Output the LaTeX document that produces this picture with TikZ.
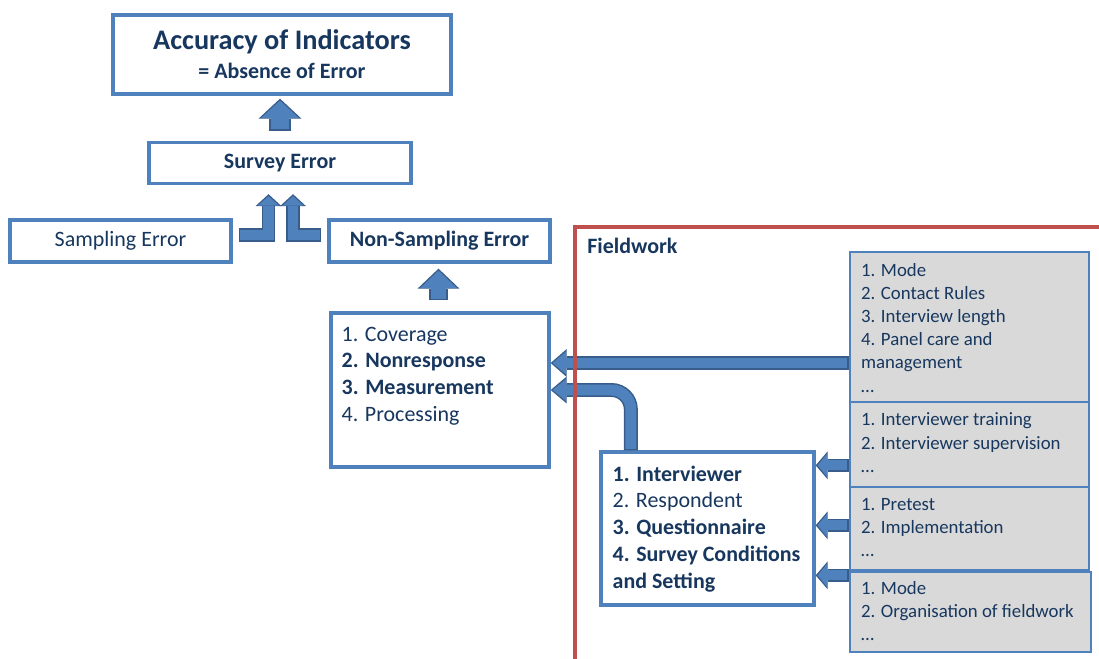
\documentclass[tikz,border=0pt]{standalone}
\usepackage{fontspec}
\setmainfont{Carlito}
\usetikzlibrary{calc,arrows.meta}
\definecolor{boxblue}{HTML}{4F81BD}
\definecolor{arrowfill}{HTML}{4F81BD}
\definecolor{arrowedge}{HTML}{385D8A}
\definecolor{textblue}{HTML}{17375E}
\definecolor{fieldred}{HTML}{C0504D}
\definecolor{greybox}{HTML}{D9D9D9}
\newdimen\pxu \pxu=0.02cm
\newcommand{\bigfont}{\fontsize{16.1}{19.3}\selectfont}
\newcommand{\boxfont}{\fontsize{12.5}{15.1}\selectfont}
\newcommand{\intfont}{\fontsize{12.5}{15.3}\selectfont}
\newcommand{\greyfont}{\fontsize{10.7}{13.2}\selectfont}
% #1 shaft, #2 head width, #3 head length (all in px), #4 path
\newcommand{\blockarrow}[4]{%
  \pgfmathsetmacro{\shout}{#1*0.5669}\pgfmathsetmacro{\hwout}{#2*0.5669}\pgfmathsetmacro{\hlout}{#3*0.5669}%
  \pgfmathsetmacro{\shin}{(#1-3)*0.5669}\pgfmathsetmacro{\hwin}{(#2-5)*0.5669}\pgfmathsetmacro{\hlin}{(#3-2.5)*0.5669}%
  \draw[arrowedge, line width=\shout pt, -{Triangle[width=\hwout pt, length=\hlout pt, line width=0pt]}] #4;
  \draw[arrowfill, line width=\shin pt, shorten <=0.85pt, shorten >=1.1pt, -{Triangle[width=\hwin pt, length=\hlin pt, line width=0pt]}] #4;}
\tikzset{
  errbox/.style={draw=boxblue, line width=1.9pt, fill=white, text=textblue, inner sep=0pt},
  greycell/.style={draw=boxblue, line width=1.5pt, fill=greybox, inner sep=0pt},
  listtext/.style={anchor=north west, inner sep=0pt, align=left, text=textblue}
}
\begin{document}
\begin{tikzpicture}[x=0.02cm, y=-0.02cm]%survey error tree
\useasboundingbox (0,0) rectangle (1099,659);
\node[errbox, minimum width=338\pxu, minimum height=79\pxu, align=center] (acc) at (282,54.5)
  {{\bigfont\bfseries Accuracy of Indicators}\\[4.5pt]{\boxfont\bfseries = Absence of Error}};
\node[errbox, minimum width=262\pxu, minimum height=41\pxu, font=\boxfont\bfseries] (survey) at (280,163) {Survey Error};
\node[errbox, minimum width=221\pxu, minimum height=42\pxu, font=\boxfont] (sampling) at (120.5,241) {Sampling Error};
\node[errbox, minimum width=221\pxu, minimum height=42\pxu, font=\boxfont\bfseries] (nonsampling) at (439.5,241) {Non-Sampling Error};
\node[errbox, minimum width=218\pxu, minimum height=154\pxu] (errtypes) at (440,390) {};
\node[listtext, font=\boxfont] at ($(errtypes.north west)+(12,15.5)$)
  {1. Coverage\\\textbf{2. Nonresponse}\\\textbf{3. Measurement}\\4. Processing};
\node[errbox, minimum width=213\pxu, minimum height=153\pxu] (interv) at (707.5,528.5) {};
\node[listtext, font=\intfont] at ($(interv.north west)+(13,15)$)
  {\textbf{1. Interviewer}\\2. Respondent\\\textbf{3. Questionnaire}\\\textbf{4. Survey Conditions}\\\textbf{and Setting}};
\node[anchor=west, inner sep=0pt, font=\boxfont\bfseries, text=textblue] (fieldwork) at (587,246) {Fieldwork};
% grey cells on the right
\node[greycell, minimum width=239\pxu, minimum height=150\pxu] (g1) at (969.5,327) {};
\node[greycell, minimum width=239\pxu, minimum height=85\pxu] (g2) at (969.5,444.5) {};
\node[greycell, minimum width=239\pxu, minimum height=83\pxu] (g3) at (969.5,528.5) {};
\node[greycell, minimum width=241\pxu, minimum height=80\pxu] (g4) at (970.5,612) {};
\node[listtext, font=\greyfont] at ($(g1.north west)+(12,12)$)
  {1. Mode\\2. Contact Rules\\3. Interview length\\4. Panel care and\\management\\\dots};
\node[listtext, font=\greyfont] at ($(g2.north west)+(12,12)$)
  {1. Interviewer training\\2. Interviewer supervision\\\dots};
\node[listtext, font=\greyfont] at ($(g3.north west)+(12,12)$)
  {1. Pretest\\2. Implementation\\\dots};
\node[listtext, font=\greyfont] at ($(g4.north west)+(12,10)$)
  {1. Mode\\2. Organisation of fieldwork\\\dots};
% block arrows
\blockarrow{22}{43}{20}{($(survey.north)+(0,-10)$) -- ($(survey.north |- acc.south)+(0,3)$)}
\blockarrow{14}{26}{12}{($(sampling.east)+(6,-6)$) -| ($(survey.south)+(-11.5,9)$)}
\blockarrow{14}{26}{12}{($(nonsampling.west)+(-6,-6)$) -| ($(survey.south)+(13,9)$)}
\blockarrow{19}{42}{20}{($(errtypes.north)+(-1.5,-11)$) -- ($(errtypes.north |- nonsampling.south)+(-1.5,5)$)}
\coordinate (nr) at ($(errtypes.east)+(0,-27)$);
\blockarrow{14}{28}{16}{(g1.west |- nr) -- (nr)}
\blockarrow{14}{27}{16}{[rounded corners=11pt] ($(interv.north west)+(31.5,0)$) |- (errtypes.east)}
\coordinate (ia) at ($(interv.north east)+(0,15)$);
\coordinate (ib) at ($(interv.north east)+(0,75)$);
\coordinate (ic) at ($(interv.north east)+(0,125)$);
\blockarrow{13}{28}{12}{(g2.west |- ia) -- (ia)}
\blockarrow{13}{28}{12}{(g3.west |- ib) -- (ib)}
\blockarrow{13}{28}{12}{(g4.west |- ic) -- (ic)}
\draw[fieldred, line width=2pt] (575,659) -- (575,227) -- (1099,227);
\end{tikzpicture}
\end{document}
